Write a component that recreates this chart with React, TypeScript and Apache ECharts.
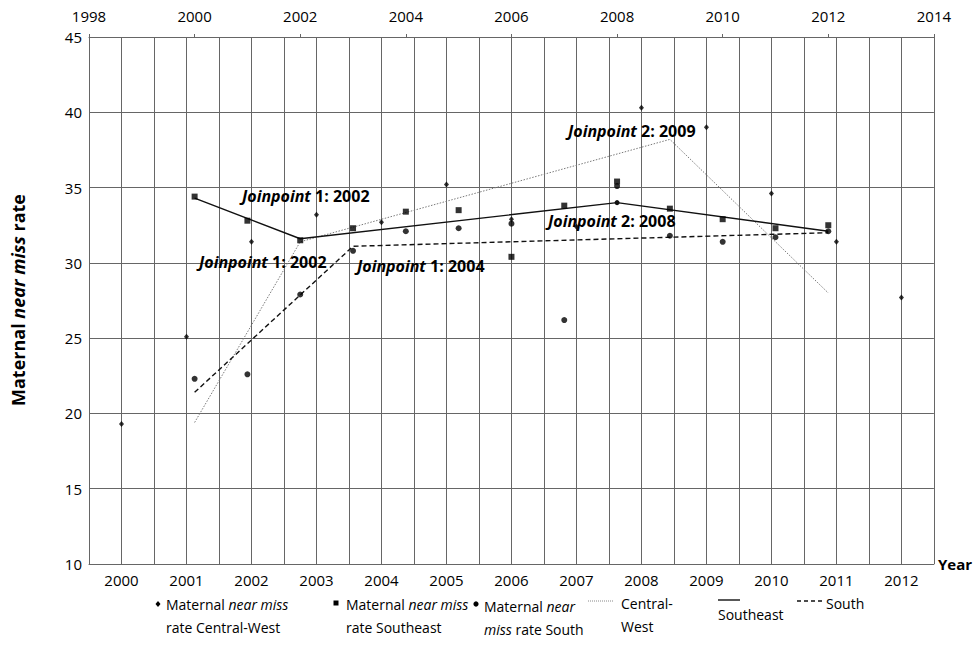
import { useEffect, useRef } from 'react';
import * as echarts from 'echarts';

// Observed rates (Central-West plotted on the bottom year axis, Southeast/South on the top one)
const cwYears = [2000, 2001, 2002, 2003, 2004, 2005, 2006, 2007, 2008, 2009, 2010, 2011, 2012];
const cwRates = [19.3, 25.1, 31.4, 33.2, 32.7, 35.2, 32.9, 32.4, 40.3, 39.0, 34.6, 31.4, 27.7];
const seYears = [2000, 2001, 2002, 2003, 2004, 2005, 2006, 2007, 2008, 2009, 2010, 2011, 2012];
const seRates = [34.4, 32.8, 31.5, 32.3, 33.4, 33.5, 30.4, 33.8, 35.4, 33.6, 32.9, 32.3, 32.5];
const sYears = [2000, 2001, 2002, 2003, 2004, 2005, 2006, 2007, 2008, 2009, 2010, 2011, 2012];
const sRates = [22.3, 22.6, 27.9, 30.8, 32.1, 32.3, 32.6, 26.2, 35.1, 31.8, 31.4, 31.7, 32.1];

// Joinpoint fitted segments
const cwFitYears = [2000, 2002, 2009, 2012];
const cwFitRates = [19.4, 31.4, 38.2, 28.0];
const seFitYears = [2000, 2002, 2008, 2012];
const seFitRates = [34.3, 31.6, 34.0, 32.1];
const sFitYears = [2000, 2003, 2012];
const sFitRates = [21.4, 31.1, 32.0];

// Axis settings
const bottomMin = 1999.5;
const bottomMax = 2012.5;
const topMin = 1998;
const topMax = 2014;
const yMin = 10;
const yMax = 45;

const F = '"Open Sans", "Noto Sans", sans-serif';

const pairs = (xs: number[], ys: number[]) => xs.map((x, i) => [x, ys[i]]);

export default function App() {
  const ref = useRef<HTMLDivElement>(null);
  useEffect(() => {
    if (!ref.current) return;
    const chart = echarts.init(ref.current, undefined, { renderer: 'svg' });
    const gridColor = '#666';
    const LF = 14;
    const LH = 23;
    const ital = { fontStyle: 'italic', fontSize: LF, lineHeight: LH, fontFamily: F, fill: '#000' };
    const annot = (text: string, x: number, y: number) => ({
      type: 'text',
      x,
      y,
      z: 100,
      style: {
        text,
        fontFamily: F,
        fontSize: 16,
        fontWeight: 'bold',
        fill: '#000',
        verticalAlign: 'middle',
        rich: { i: { fontStyle: 'italic', fontWeight: 'bold', fontSize: 16, fontFamily: F, fill: '#000' } },
      },
    });
    const legText = (text: string, x: number, y: number) => ({
      type: 'text',
      x,
      y,
      style: { text, fontFamily: F, fontSize: LF, lineHeight: LH, fill: '#000', verticalAlign: 'top', rich: { i: ital } },
    });
    const option: any = {
      animation: false,
      grid: { left: 89, right: 39, top: 37, bottom: 94 },
      xAxis: [
        {
          type: 'value',
          position: 'bottom',
          min: bottomMin,
          max: bottomMax,
          interval: 0.5,
          name: 'Year',
          nameLocation: 'end',
          nameGap: 4,
          nameTextStyle: { fontFamily: F, fontSize: 15, fontWeight: 'bold', color: '#000' },
          axisLine: { show: true, lineStyle: { color: gridColor, width: 1 } },
          axisTick: { show: false },
          axisLabel: {
            margin: 8,
            fontFamily: F,
            fontSize: 15,
            color: '#000',
            formatter: (v: number) => (Number.isInteger(v) ? String(v) : ''),
          },
          splitLine: { show: true, lineStyle: { color: gridColor, width: 1 } },
        },
        {
          type: 'value',
          position: 'top',
          min: topMin,
          max: topMax,
          interval: 2,
          axisLine: { show: true, lineStyle: { color: gridColor, width: 1 } },
          axisTick: { show: true, length: 3, lineStyle: { color: gridColor } },
          axisLabel: { margin: 14, fontFamily: F, fontSize: 15, color: '#000', formatter: (v: number) => String(v) },
          splitLine: { show: false },
        },
      ],
      yAxis: {
        type: 'value',
        min: yMin,
        max: yMax,
        interval: 5,
        axisLine: { show: true, lineStyle: { color: gridColor, width: 1 } },
        axisTick: { show: false },
        axisLabel: { margin: 7, fontFamily: F, fontSize: 15, color: '#000' },
        splitLine: { show: true, lineStyle: { color: gridColor, width: 1 } },
      },
      series: [
        {
          name: 'Central-West',
          type: 'line',
          xAxisIndex: 1,
          data: pairs(cwFitYears, cwFitRates),
          symbol: 'none',
          lineStyle: { color: '#7a7a7a', width: 1, type: [1.5, 1.5] },
          z: 3,
        },
        {
          name: 'Southeast',
          type: 'line',
          xAxisIndex: 1,
          data: pairs(seFitYears, seFitRates).map((p) =>
            p[0] === 2008 ? { value: p, symbol: 'circle', symbolSize: 5 } : { value: p, symbol: 'none' }
          ),
          showSymbol: true,
          itemStyle: { color: '#111' },
          lineStyle: { color: '#111', width: 1.4 },
          z: 4,
        },
        {
          name: 'South',
          type: 'line',
          xAxisIndex: 1,
          data: pairs(sFitYears, sFitRates),
          symbol: 'none',
          lineStyle: { color: '#111', width: 1.4, type: [5, 3] },
          z: 4,
        },
        {
          name: 'Maternal near miss rate Central-West',
          type: 'scatter',
          xAxisIndex: 0,
          data: pairs(cwYears, cwRates),
          symbol: 'diamond',
          symbolSize: [5, 6],
          itemStyle: { color: '#000' },
          z: 5,
        },
        {
          name: 'Maternal near miss rate Southeast',
          type: 'scatter',
          xAxisIndex: 1,
          data: pairs(seYears, seRates),
          symbol: 'rect',
          symbolSize: 6,
          itemStyle: { color: '#000' },
          z: 5,
        },
        {
          name: 'Maternal near miss rate South',
          type: 'scatter',
          xAxisIndex: 1,
          data: pairs(sYears, sRates),
          symbol: 'circle',
          symbolSize: 6,
          itemStyle: { color: '#000' },
          z: 5,
        },
      ],
      graphic: [
        annot('{i|Joinpoint} 1: 2002', 242, 196),
        annot('{i|Joinpoint} 1: 2002', 199, 262),
        annot('{i|Joinpoint} 1: 2004', 357, 266),
        annot('{i|Joinpoint} 2: 2009', 568, 131),
        annot('{i|Joinpoint} 2: 2008', 548, 221),
        {
          type: 'text',
          x: 18,
          y: 300,
          rotation: Math.PI / 2,
          style: {
            text: 'Maternal {i|near miss} rate',
            fontFamily: F,
            fontSize: 18,
            fontWeight: 'bold',
            fill: '#000',
            align: 'center',
            verticalAlign: 'middle',
            rich: { i: { fontStyle: 'italic', fontWeight: 'bold', fontSize: 18, fontFamily: F, fill: '#000' } },
          },
        },
        // legend
        { type: 'polygon', shape: { points: [[158, 601], [160.5, 604], [158, 607], [155.5, 604]] }, style: { fill: '#000' } },
        legText('Maternal {i|near miss}\nrate Central-West', 166, 593),
        { type: 'rect', shape: { x: 333.5, y: 600.5, width: 5, height: 5 }, style: { fill: '#000' } },
        legText('Maternal {i|near miss}\nrate Southeast', 346, 593),
        { type: 'circle', shape: { cx: 476, cy: 604, r: 2.6 }, style: { fill: '#000' } },
        legText('Maternal {i|near}\n{i|miss} rate South', 484, 595),
        { type: 'line', shape: { x1: 588, y1: 601, x2: 614, y2: 601 }, style: { stroke: '#888', lineWidth: 1, lineDash: [1, 1] } },
        legText('Central-\nWest', 621, 592),
        { type: 'line', shape: { x1: 718, y1: 600, x2: 740, y2: 600 }, style: { stroke: '#111', lineWidth: 1.4 } },
        legText('Southeast', 718, 603),
        { type: 'line', shape: { x1: 797, y1: 601, x2: 822, y2: 601 }, style: { stroke: '#111', lineWidth: 1.4, lineDash: [4, 3] } },
        legText('South', 826, 592),
      ],
    };
    chart.setOption(option);
    return () => chart.dispose();
  }, []);
  return <div ref={ref} style={{ position: 'fixed', left: 0, top: 0, width: 975, height: 658, background: '#fff' }} />;
}
